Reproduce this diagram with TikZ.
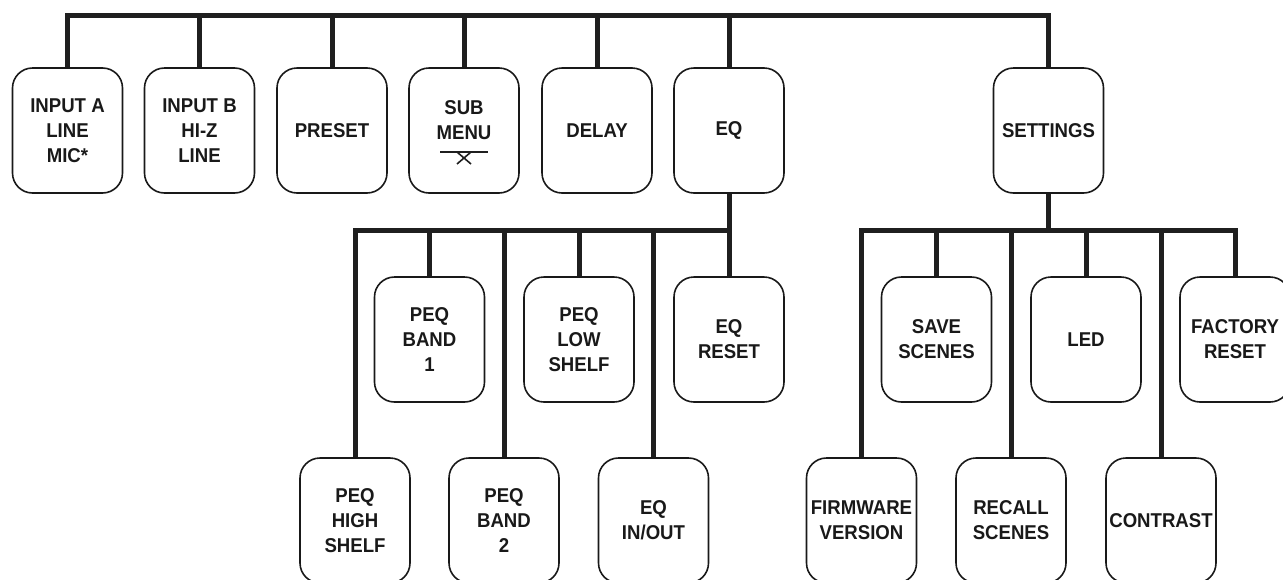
\documentclass[tikz,border=0pt]{standalone}
\usepackage{fontspec}
\setmainfont{Liberation Sans}[FakeStretch=0.93]
\begin{document}
\begin{tikzpicture}[x=1pt,y=-1pt,
  menubox/.style={draw=black!90, line width=1.6pt, rounded corners=20pt,
    minimum width=110pt, minimum height=125pt, inner sep=0pt, align=center,
    font=\fontsize{20}{25}\selectfont\bfseries, text=black!90},
  bar/.style={line width=5pt, draw=black!88, line join=miter},
  menutext/.style={inner sep=0pt, align=center, font=\fontsize{20}{25}\selectfont\bfseries, text=black!90}]
\useasboundingbox (0,0) rectangle (1283,579);
\clip (0,0) rectangle (1283,579);
% top row
\node[menubox] (ia) at (67.5,130.5) {INPUT A\\LINE\\MIC*};
\node[menubox] (ib) at (199.5,130.5) {INPUT B\\HI-Z\\LINE};
\node[menubox] (pre) at (332,130.5) {PRESET};
\node[menubox] (sub) at (464,130.5) {};
\node[menutext] (subt) at (464,120.5) {SUB\\MENU};
\node[menubox] (del) at (597,130.5) {DELAY};
\node[menubox] (eq) at (729,130.5) {EQ};
\node[menubox] (set) at (1048.5,130.5) {SETTINGS};
% sub menu symbol
\draw[line width=1.6pt, black!88] (440,152) -- (488,152);
\draw[line width=1.6pt, black!88] (457,152) -- (471,164) (471,152) -- (457,164);
% EQ sub menu
\node[menubox] (b1) at (429.5,339.5) {PEQ\\BAND\\1};
\node[menubox] (low) at (579,339.5) {PEQ\\LOW\\SHELF};
\node[menubox] (eqr) at (729,339.5) {EQ\\RESET};
\node[menubox] (hs) at (355,520.5) {PEQ\\HIGH\\SHELF};
\node[menubox] (b2) at (504,520.5) {PEQ\\BAND\\2};
\node[menubox] (io) at (653.5,520.5) {EQ\\IN/OUT};
% Settings sub menu
\node[menubox] (save) at (936.5,339.5) {SAVE\\SCENES};
\node[menubox] (led) at (1086,339.5) {LED};
\node[menubox] (fr) at (1235,339.5) {FACTORY\\RESET};
\node[menubox] (fw) at (861.5,520.5) {FIRMWARE\\VERSION};
\node[menubox] (rec) at (1011,520.5) {RECALL\\SCENES};
\node[menubox] (con) at (1161,520.5) {CONTRAST};
% connectors
\coordinate (top) at (0,15);
\coordinate (eqj) at (729,230);
\coordinate (setj) at (1048.5,230);
\draw[bar] (ia.north) |- (set.north |- top) -- (set.north);
\foreach \n in {ib,pre,sub,del,eq} \draw[bar] (\n.north) -- (\n.north |- top);
\draw[bar] (hs.north) |- (eqj) -- (eq.south);
\draw[bar] (eqj) -- (eqr.north);
\foreach \n in {b1,b2,low,io} \draw[bar] (\n.north) -- (\n.north |- eqj);
\draw[bar] (fw.north) |- (fr.north |- setj) -- (fr.north);
\draw[bar] (set.south) -- (setj);
\foreach \n in {save,rec,led,con} \draw[bar] (\n.north) -- (\n.north |- setj);
\end{tikzpicture}
\end{document}
